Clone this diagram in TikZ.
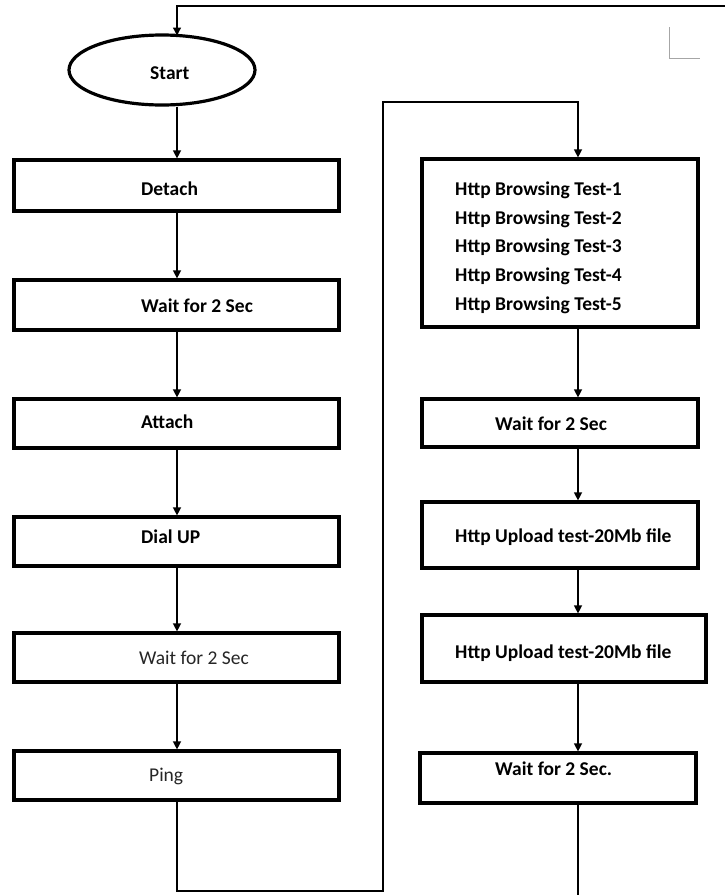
\documentclass[tikz,border=0pt]{standalone}
\usepackage{fontspec}
\setmainfont{Carlito}
\usetikzlibrary{arrows.meta,shapes.geometric}
\begin{document}
\begin{tikzpicture}[x=1pt,y=-1pt,
  stepbox/.style={draw=black,line width=3.2pt,rectangle,inner sep=0pt,fill=white},
  lbl/.style={anchor=west,inner sep=0pt,font=\fontsize{19.5}{22}\selectfont\bfseries},
  lblreg/.style={anchor=west,inner sep=0pt,font=\fontsize{19.5}{22}\selectfont,text=black!85},
  conn/.style={line width=1.3pt,-{Triangle[length=8pt,width=8pt]}},
  plain/.style={line width=1.3pt}]
\useasboundingbox (0,0) rectangle (725,895);
% start ellipse
\node[draw=black,line width=3.2pt,ellipse,minimum width=186pt,minimum height=70pt,inner sep=0pt] (start) at (162,70) {};
\node[lbl] (startt) at (150,73) {Start};
% left column boxes
\node[stepbox,minimum width=325pt,minimum height=51pt] (detach) at (176.5,185.5) {};
\node[stepbox,minimum width=325pt,minimum height=50pt] (waita) at (176.5,305) {};
\node[stepbox,minimum width=325pt,minimum height=49pt] (attach) at (176.5,423.5) {};
\node[stepbox,minimum width=325pt,minimum height=49pt] (dial) at (176.5,541.5) {};
\node[stepbox,minimum width=325pt,minimum height=49pt] (waitb) at (176.5,657.5) {};
\node[stepbox,minimum width=325pt,minimum height=49pt] (ping) at (176.5,775.5) {};
\node[lbl] (detacht) at (141,189) {Detach};
\node[lbl] (waitat) at (141,306) {Wait for 2 Sec};
\node[lbl] (attacht) at (141,422) {Attach};
\node[lbl] (dialt) at (141,537) {Dial UP};
\node[lblreg] (waitbt) at (139,658) {Wait for 2 Sec};
\node[lblreg] (pingt) at (149,776) {Ping};
% right column boxes
\node[stepbox,minimum width=276pt,minimum height=168pt] (browse) at (560,243) {};
\node[stepbox,minimum width=276pt,minimum height=48pt] (waitc) at (560,423) {};
\node[stepbox,minimum width=276pt,minimum height=66pt] (upa) at (560,535) {};
\node[stepbox,minimum width=284pt,minimum height=67pt] (upb) at (564,648.5) {};
\node[stepbox,minimum width=276pt,minimum height=50pt] (waitd) at (558,778) {};
\node[lbl] (b1t) at (455,190) {Http Browsing Test-1};
\node[lbl] (b2t) at (455,219) {Http Browsing Test-2};
\node[lbl] (b3t) at (455,247) {Http Browsing Test-3};
\node[lbl] (b4t) at (455,276) {Http Browsing Test-4};
\node[lbl] (b5t) at (455,305) {Http Browsing Test-5};
\node[lbl] (waitct) at (495,424) {Wait for 2 Sec};
\node[lbl] (upat) at (455,537) {Http Upload test-20Mb file};
\node[lbl] (upbt) at (455,653) {Http Upload test-20Mb file};
\node[lbl] (waitdt) at (495,769) {Wait for 2 Sec.};
% coordinates
\coordinate (lx) at (177,0);
\coordinate (rx) at (578,0);
\coordinate (topr) at (725,6);
\coordinate (topl) at (177,6);
\coordinate (botl) at (383,891);
\coordinate (midt) at (578,102);
\coordinate (botr) at (578,895);
% connectors
\draw[conn] (topr) -- (topl) -- (177,35.5);
\draw[conn] (start.south -| lx) -- (detach.north -| lx);
\draw[conn] (detach.south -| lx) -- (waita.north -| lx);
\draw[conn] (waita.south -| lx) -- (attach.north -| lx);
\draw[conn] (attach.south -| lx) -- (dial.north -| lx);
\draw[conn] (dial.south -| lx) -- (waitb.north -| lx);
\draw[conn] (waitb.south -| lx) -- (ping.north -| lx);
\draw[conn] (ping.south -| lx) |- (botl) |- (midt) -- (browse.north -| rx);
\draw[conn] (browse.south -| rx) -- (waitc.north -| rx);
\draw[conn] (waitc.south -| rx) -- (upa.north -| rx);
\draw[conn] (upa.south -| rx) -- (upb.north -| rx);
\draw[conn] (upb.south -| rx) -- (waitd.north -| rx);
\draw[plain] (waitd.south -| rx) -- (botr);
% page corner mark
\draw[black!35,line width=1pt] (669,27) -- (669,58) -- (700,58);
\end{tikzpicture}
\end{document}
